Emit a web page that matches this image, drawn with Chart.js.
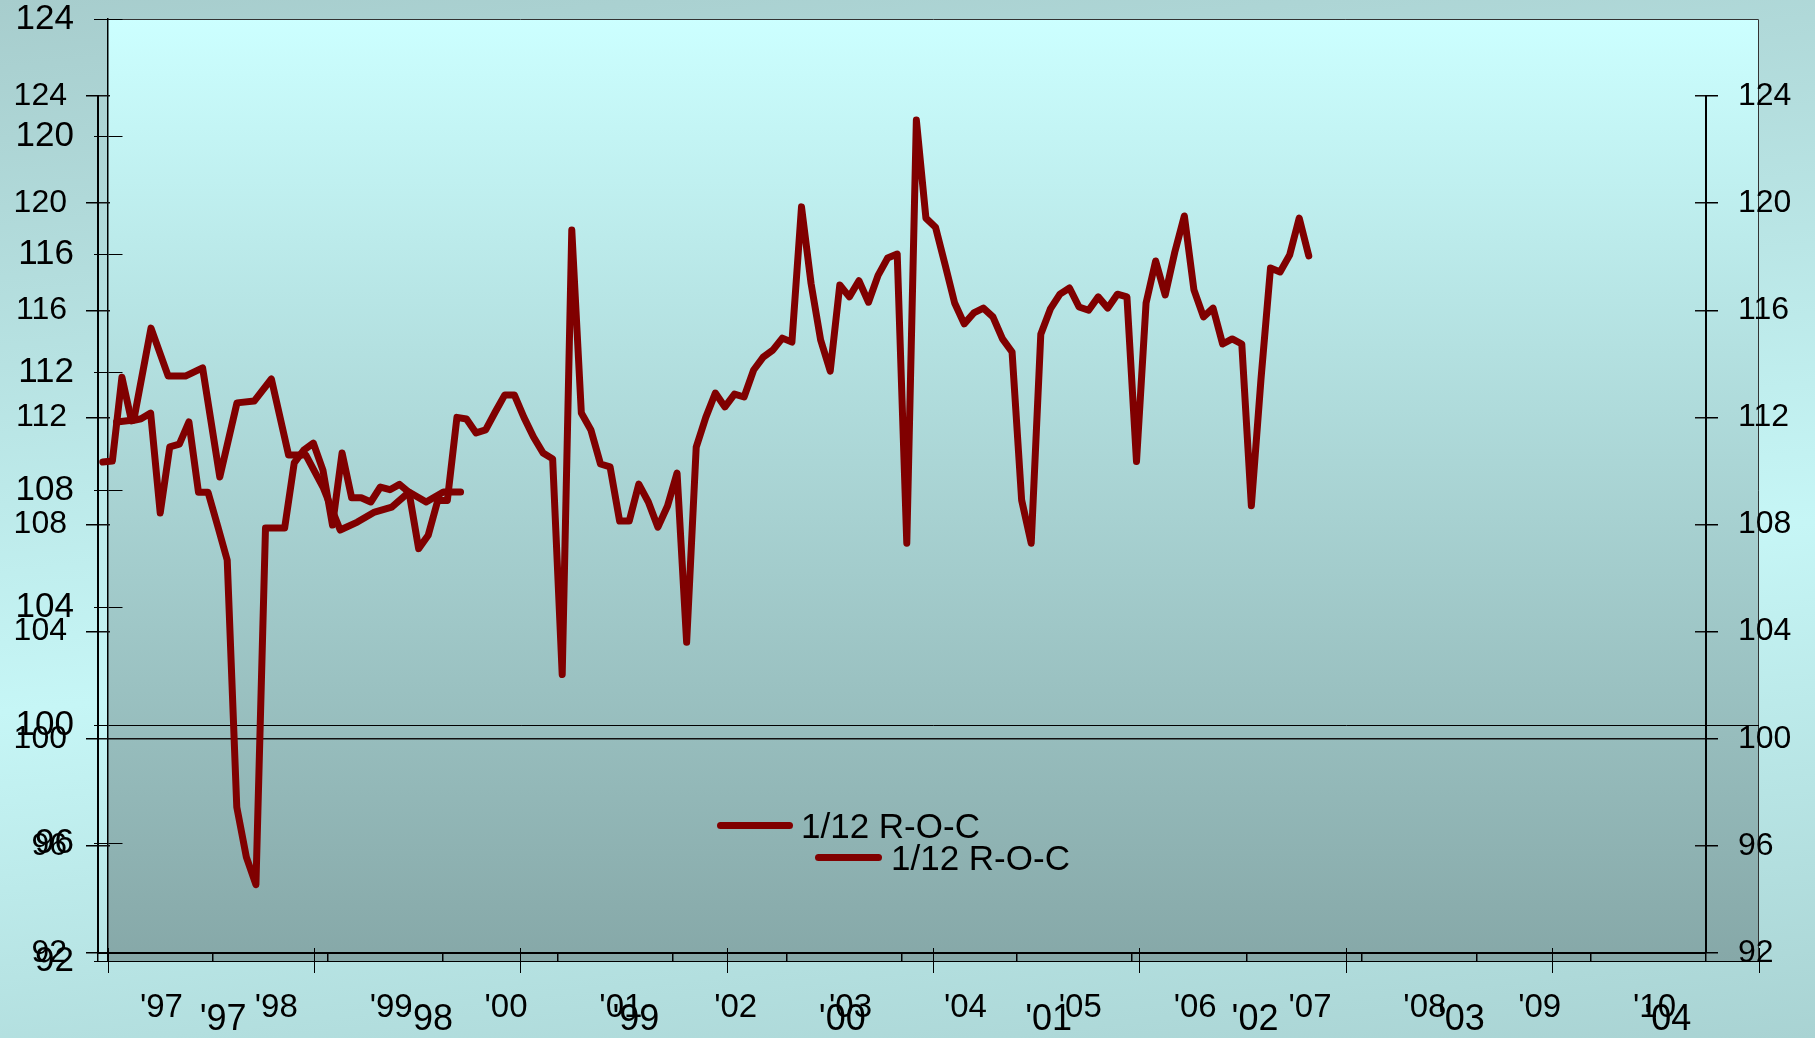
<!DOCTYPE html>
<html><head><meta charset="utf-8">
<script src="https://cdn.jsdelivr.net/npm/chart.js@4.4.1/dist/chart.umd.min.js"></script>
<style>
html,body{margin:0;padding:0;width:1815px;height:1038px;overflow:hidden;}
body{position:relative;background:linear-gradient(174deg,#a7cdcd 0%,#c6f6f6 58%,#a9d3d3 100%);font-family:'Liberation Sans',Arial,sans-serif;}
canvas{position:absolute;left:0;top:0;}
.lg{position:absolute;display:flex;align-items:center;font-size:35px;line-height:1;color:#000;white-space:nowrap;}
.lg .sw{display:inline-block;height:7px;border-radius:4px;}
</style></head><body>
<canvas id="cA" width="1815" height="1038"></canvas>
<canvas id="cB" width="1815" height="1038"></canvas>
<div id="legA" class="lg" style="left:717px;top:808px;"></div>
<div id="legB" class="lg" style="left:815px;top:840px;"></div>
<script>
// ---- data ----
const seriesLabel = '1/12 R-O-C';
const yearLabelsA = ["'97","'98","'99","'00","'01","'02","'03","'04"];
const yearLabelsB = ["'97","'98","'99","'00","'01","'02","'03","'04","'05","'06","'07","'08","'09","'10"];
const yTicks = [92, 96, 100, 104, 108, 112, 116, 120, 124];
// monthly values from Jan 1997 (large-axis chart)
const seriesA = [110.31,110.38,113.5,111.87,111.87,112.15,108.44,110.96,111.02,111.77,109.19,109.19,
  108.1,106.64,106.91,107.25,107.42,107.93,107.59,107.93,107.93];
// monthly values from Jan 1997 (small-axis chart)
const seriesB = [110.33,110.37,113.5,111.87,111.95,112.16,108.43,110.9,111.0,111.83,109.2,109.2,
  107.95,106.67,97.45,95.58,94.55,107.87,107.87,107.87,110.3,110.78,111.04,110.03,
  107.98,110.67,109.0,109.0,108.84,109.4,109.3,109.5,109.2,107.1,107.6,108.9,
  108.9,112.0,111.94,111.42,111.53,112.2,112.84,112.84,112.0,111.27,110.67,110.45,
  102.4,119.0,112.16,111.53,110.26,110.15,108.13,108.13,109.51,108.84,107.9,108.69,
  109.92,103.6,110.89,112.0,112.91,112.39,112.87,112.76,113.77,114.25,114.51,114.96,
  114.81,119.86,117.0,114.89,113.73,116.94,116.5,117.1,116.3,117.3,117.95,118.1,
  107.3,123.1,119.44,119.1,117.7,116.27,115.49,115.9,116.08,115.75,114.93,114.44,
  108.91,107.3,115.1,116.05,116.6,116.83,116.12,116.0,116.5,116.08,116.6,116.5,
  110.35,116.27,117.84,116.57,118.17,119.52,116.76,115.75,116.08,114.74,114.93,114.74,
  108.7,113.4,117.58,117.43,118.06,119.44,118.03];

// ---- helpers ----
const FONT = "'Liberation Sans', Arial, sans-serif";
const LINE = '#800000';
const toPoints = arr => arr.map((v, i) => ({x: i + 0.5, y: v}));
const halfYearTicks = n => Array.from({length: n * 2 + 1}, (_, k) => k * 6);
const isBoundary = c => c.tick && c.tick.value % 12 === 0;
const clearC = 'rgba(0,0,0,0)';
const fixBox = (prop, size) => s => {
  s[prop] = size;
  s.paddingTop = 0; s.paddingBottom = 0; s.paddingLeft = 0; s.paddingRight = 0;
};

const plotBg = {
  id: 'plotBg',
  beforeDraw(chart) {
    const {ctx, chartArea: a} = chart;
    const g = ctx.createLinearGradient(0, a.top, 0, a.bottom);
    g.addColorStop(0, '#ccffff');
    g.addColorStop(1, '#86a8a8');
    ctx.save();
    ctx.fillStyle = g;
    ctx.fillRect(a.left, a.top, a.right - a.left, a.bottom - a.top);
    ctx.strokeStyle = '#333';
    ctx.lineWidth = 1;
    ctx.beginPath();
    ctx.moveTo(a.left, a.top + 0.5); ctx.lineTo(a.right - 0.5, a.top + 0.5); ctx.lineTo(a.right - 0.5, a.bottom);
    ctx.stroke();
    ctx.restore();
  }
};

const lineDs = data => ({
  label: seriesLabel, data: data, borderColor: LINE, backgroundColor: LINE,
  borderWidth: 7, pointRadius: 0, tension: 0, fill: false,
  borderCapStyle: 'round', borderJoinStyle: 'round'
});

// ---- chart A (large axes) ----
const ticksA = halfYearTicks(yearLabelsA.length);
const chartA = new Chart(document.getElementById('cA'), {
  type: 'line',
  data: {datasets: [lineDs(toPoints(seriesA))]},
  options: {
    responsive: false, animation: false, events: [],
    layout: {padding: {left: 0, top: 19, right: 56, bottom: 0}},
    plugins: {legend: {display: false}, tooltip: {enabled: false}},
    scales: {
      x: {
        type: 'linear', min: 0, max: yearLabelsA.length * 12,
        afterBuildTicks: s => { s.ticks = ticksA.map(v => ({value: v})); },
        afterFit: fixBox('height', 77),
        ticks: {autoSkip: false, maxRotation: 0, padding: 29, labelOffset: 12, color: '#000',
          font: {family: FONT, size: 36, lineHeight: 1},
          callback: v => (v % 12 === 6 ? yearLabelsA[(v - 6) / 12] : '')},
        grid: {drawOnChartArea: true, tickLength: 12, lineWidth: 1,
          color: c => isBoundary(c) ? '#000' : clearC, tickColor: c => isBoundary(c) ? '#000' : clearC},
        border: {display: true, color: '#000', width: 1, dash: [13, 929], dashOffset: 13}
      },
      y: {
        min: 92, max: 124,
        afterBuildTicks: s => { s.ticks = yTicks.map(v => ({value: v})); },
        afterFit: fixBox('width', 108),
        ticks: {padding: 20, color: '#000', font: {family: FONT, size: 35, lineHeight: 1}},
        grid: {drawOnChartArea: true, tickLength: 14, lineWidth: 1, color: '#000', tickColor: '#000'},
        border: {display: true, color: '#000', width: 1.5,
          dash: c => (c.tick && c.tick.value === 100) ? [] : [14, 3000]}
      }
    }
  },
  plugins: [plotBg]
});

// ---- chart B (small axes) ----
const ticksB = halfYearTicks(yearLabelsB.length);
const chartB = new Chart(document.getElementById('cB'), {
  type: 'line',
  data: {datasets: [lineDs(toPoints(seriesB))]},
  options: {
    responsive: false, animation: false, events: [],
    layout: {padding: {left: 0, top: 96, right: 0, bottom: 0}},
    plugins: {legend: {display: false}, tooltip: {enabled: false}},
    scales: {
      x: {
        type: 'linear', min: 0, max: yearLabelsB.length * 12,
        afterBuildTicks: s => { s.ticks = ticksB.map(v => ({value: v})); },
        afterFit: fixBox('height', 85),
        ticks: {autoSkip: false, maxRotation: 0, padding: 30, labelOffset: 6, color: '#000',
          font: {family: FONT, size: 33, lineHeight: 1},
          callback: v => (v % 12 === 6 ? yearLabelsB[(v - 6) / 12] : '')},
        grid: {drawOnChartArea: false, tickLength: 8, lineWidth: 1.5,
          color: c => isBoundary(c) ? '#000' : clearC, tickColor: c => isBoundary(c) ? '#000' : clearC},
        border: {display: true, color: '#000', width: 2}
      },
      y: {
        position: 'left', min: 92, max: 124,
        afterBuildTicks: s => { s.ticks = yTicks.map(v => ({value: v})); },
        afterFit: fixBox('width', 98),
        ticks: {padding: 19, color: '#000', font: {family: FONT, size: 32, lineHeight: 1}},
        grid: {drawOnChartArea: true, tickLength: 12, lineWidth: 1.5, color: '#111', tickColor: '#000'},
        border: {display: true, color: '#000', width: 2,
          dash: c => (c.tick && c.tick.value === 100) ? [] : [11, 1585, 12, 100]}
      },
      y2: {
        position: 'right', min: 92, max: 124,
        afterBuildTicks: s => { s.ticks = yTicks.map(v => ({value: v})); },
        afterFit: fixBox('width', 109),
        ticks: {padding: 20, color: '#000', font: {family: FONT, size: 32, lineHeight: 1}},
        grid: {drawOnChartArea: false, tickLength: 12, lineWidth: 1.5, color: '#000', tickColor: '#000'},
        border: {display: true, color: '#000', width: 2}
      }
    }
  }
});

// ---- HTML legends built from the charts' legend items ----
function buildLegend(chart, el, swatchW, gap) {
  const items = Chart.defaults.plugins.legend.labels.generateLabels(chart);
  items.forEach(it => {
    const sw = document.createElement('span');
    sw.className = 'sw';
    sw.style.width = swatchW + 'px';
    sw.style.background = it.strokeStyle;
    const tx = document.createElement('span');
    tx.textContent = it.text;
    tx.style.marginLeft = gap + 'px';
    el.appendChild(sw); el.appendChild(tx);
  });
}
buildLegend(chartA, document.getElementById('legA'), 76, 8);
buildLegend(chartB, document.getElementById('legB'), 67, 9);
</script>
</body></html>
